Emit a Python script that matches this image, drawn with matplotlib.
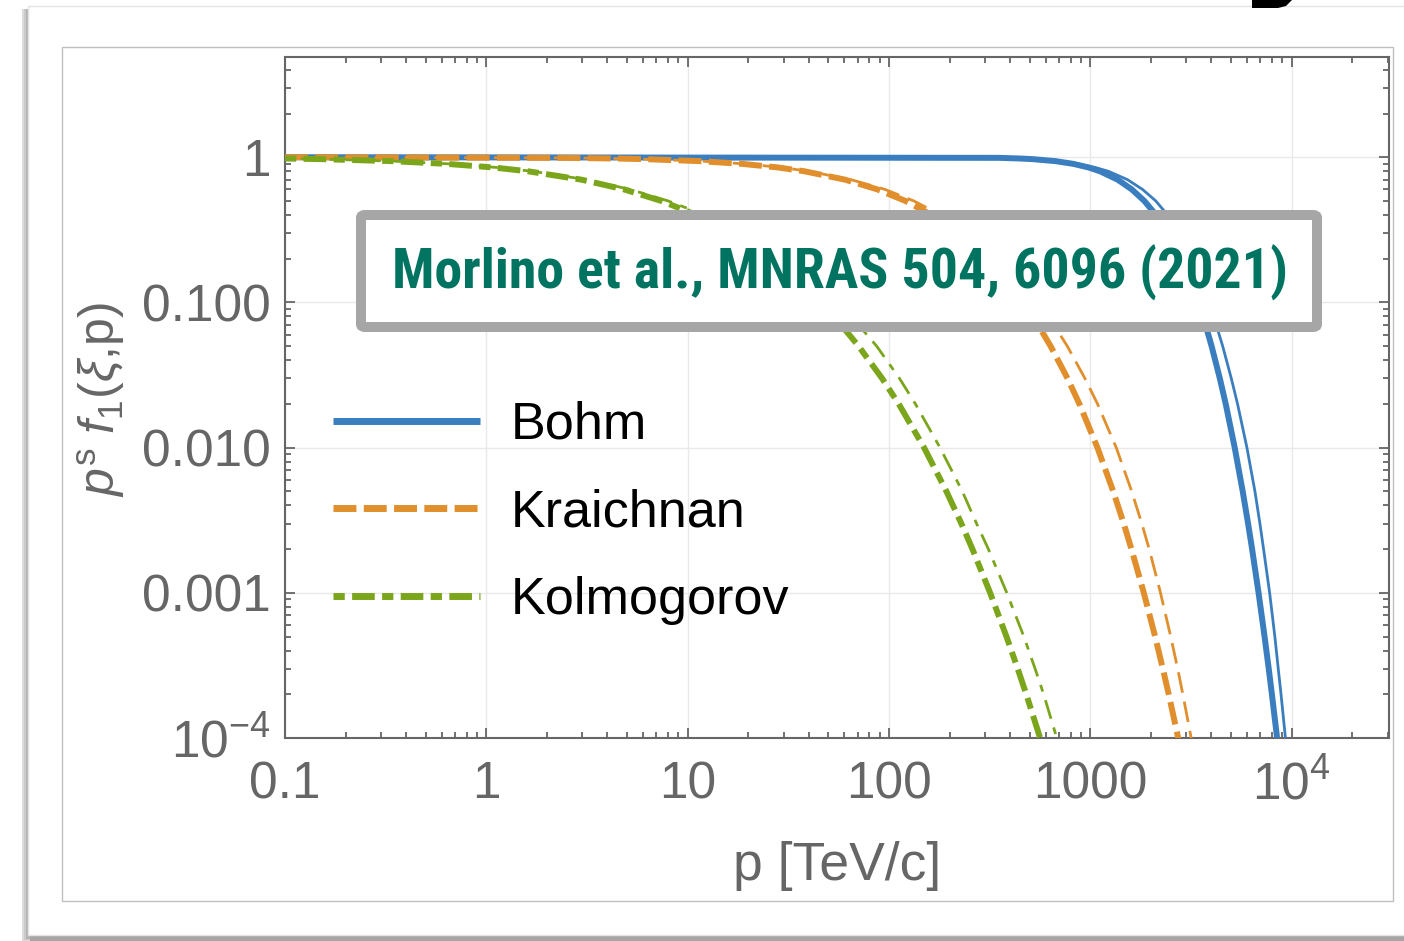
import matplotlib
matplotlib.use("Agg")
import matplotlib.pyplot as plt
from matplotlib.lines import Line2D
from matplotlib.patches import Rectangle, FancyBboxPatch, Polygon
from matplotlib.ticker import FixedLocator, FixedFormatter, LogLocator, NullFormatter

plt.rcParams['font.family'] = ['Liberation Sans', 'DejaVu Sans']
plt.rcParams['mathtext.fontset'] = 'custom'
plt.rcParams['mathtext.rm'] = 'Liberation Sans'
plt.rcParams['mathtext.it'] = 'Liberation Sans:italic'
plt.rcParams['mathtext.bf'] = 'Liberation Sans:bold'
plt.rcParams['lines.scale_dashes'] = False

# ---------------- data ----------------
series_names = ["Bohm", "Kraichnan", "Kolmogorov"]

# f levels at which the momentum of each curve was read
f_levels = [0.98, 0.97, 0.94, 0.9, 0.85, 0.8, 0.7, 0.6, 0.5, 0.4, 0.3, 0.2, 0.15, 0.1,
            0.07, 0.05, 0.03, 0.02, 0.01, 0.005, 0.003, 0.002, 0.001, 5e-4, 3e-4, 2e-4,
            1e-4, 5e-5]
f_start = [1.0, 0.99]          # plateau points for Bohm / Kraichnan

# Bohm (thick = main curve, thin = companion curve)
p_bohm_start = [0.1, 352]
p_bohm = [446.7, 517, 671, 824, 981, 1119, 1370, 1610, 1857, 2125, 2437, 2834, 3096,
          3447, 3741, 4009, 4404, 4711, 5222, 5722, 6085, 6372, 6860, 7347, 7707, 7991,
          8481, 8974]
p_bohm_thin = [449, 522, 691, 865, 1059, 1231, 1534, 1819, 2117, 2423, 2754, 3202, 3498,
               3895, 4227, 4550, 5021, 5394, 6005, 6580, 6967, 7264, 7786, 8265, 8593,
               8870, 9329, 9782]

# Kraichnan
p_kra_start = [0.1, 2.41]
p_kra = [4.32, 6.14, 11.46, 18.67, 28.1, 38.1, 60.7, 87.7, 120.8, 163.1, 220.2, 305.6,
         369.3, 463.5, 550.3, 635.6, 771.3, 883.7, 1086, 1301, 1467, 1603, 1846, 2101,
         2295, 2455, 2736, 3029]
p_kra_thin = [4.36, 6.20, 11.69, 19.23, 29.22, 40.0, 64.95, 95.6, 132.9, 181.0, 248.8,
              351.4, 428.4, 546.9, 660.4, 769.1, 941.0, 1087, 1347, 1607, 1804, 1964,
              2234, 2511, 2720, 2885, 3174, 3483]

# Kolmogorov
p_kol = [0.1, 0.1513, 0.3381, 0.6358, 1.0813, 1.614, 2.977, 4.839, 7.405, 11.07, 16.59,
         25.85, 33.47, 45.69, 57.88, 70.67, 92.46, 111.9, 149.5, 193.0, 229.0, 260.0,
         318.3, 383.6, 436.4, 481.3, 563.9, 655.0]
p_kol_thin = [0.1, 0.153, 0.345, 0.655, 1.125, 1.695, 3.156, 5.178, 7.997, 12.18, 18.58,
              29.73, 39.16, 54.37, 70.61, 86.92, 112.8, 135.4, 179.4, 231.6, 272.5, 312.0,
              385.1, 468.0, 532.4, 587.2, 682.3, 786.0]

x_ticks = [0.1, 1, 10, 100, 1000, 10000]
x_ticklabels = ["0.1", "1", "10", "100", "1000", r"$10^{4}$"]
y_ticks = [1e-4, 1e-3, 1e-2, 1e-1, 1]
y_ticklabels = [r"$10^{-4}$", "0.001", "0.010", "0.100", "1"]

citation = "Morlino et al., MNRAS 504, 6096 (2021)"

# ---------------- styles ----------------
C_BLUE = "#3a7ebf"
C_ORANGE = "#e08f2c"
C_GREEN = "#7ba61c"
C_TEAL = "#007361"
GRAY_TXT = "#666666"

W, H = 1404, 941
fig = plt.figure(figsize=(W / 100, H / 100), dpi=100)
fig.patch.set_facecolor("white")


def fx(x):
    return x / W


def fy(y):
    return 1 - y / H


# ---- page card decoration ----
for i, c in enumerate(["#dcdcdc", "#cacaca", "#b4b4b4"]):
    fig.patches.append(Rectangle((fx(22 + i * 2), fy(941 - i)), 1, (941 - 9 - i) / H,
                                 transform=fig.transFigure, facecolor=c, edgecolor="none",
                                 zorder=-5 + i))
fig.patches.append(Rectangle((fx(30), fy(941)), 1, 6 / H, transform=fig.transFigure,
                             facecolor="#a6a6a6", edgecolor="none", zorder=-3))
fig.patches.append(Rectangle((fx(28), fy(935)), 1, (935 - 6) / H, transform=fig.transFigure,
                             facecolor="white", edgecolor="#e4e4e4", lw=1.0, zorder=-2))
fig.patches.append(Polygon([(fx(1252), fy(0)), (fx(1292), fy(0)), (fx(1286), fy(6)),
                            (fx(1278), fy(8)), (fx(1252), fy(8))], closed=True,
                           transform=fig.transFigure, facecolor="black", edgecolor="none",
                           zorder=-1))
fig.patches.append(Rectangle((fx(62), fy(901)), (1393 - 62) / W, (901 - 47) / H,
                             transform=fig.transFigure, facecolor="white",
                             edgecolor="#c0c0c0", lw=1.0, zorder=-1))

# ---- axes ----
ax = fig.add_axes([fx(285), fy(738), (1389 - 285) / W, (738 - 57) / H])
ax.set_facecolor("none")
ax.set_xscale("log")
ax.set_yscale("log")
ax.set_xlim(0.1, 3.05e4)
ax.set_ylim(1e-4, 4.9)

lw_thick, lw_thin = 4.3, 2.0
dash_or_thick = (0, (16.5, 5.3))
dash_or_thin = (0, (15.0, 6.5))
dash_gr_thick = (0, (8.1, 5.3, 16.3, 5.3))
dash_gr_thin = (0, (5.0, 6.5, 14.0, 6.5))

ax.plot(p_bohm_start + p_bohm, f_start + f_levels, color=C_BLUE, lw=lw_thick, zorder=3)
ax.plot(p_bohm_start + p_bohm_thin, f_start + f_levels, color=C_BLUE, lw=lw_thin, zorder=3)
ax.plot(p_kra_start + p_kra, f_start + f_levels, color=C_ORANGE, lw=lw_thick,
        linestyle=dash_or_thick, zorder=4)
ax.plot(p_kra_start + p_kra_thin, f_start + f_levels, color=C_ORANGE, lw=lw_thin,
        linestyle=dash_or_thin, zorder=4)
ax.plot(p_kol, f_levels, color=C_GREEN, lw=lw_thick, linestyle=dash_gr_thick, zorder=5)
ax.plot(p_kol_thin, f_levels, color=C_GREEN, lw=lw_thin, linestyle=dash_gr_thin, zorder=5)

# ticks / grid
ax.xaxis.set_major_locator(FixedLocator(x_ticks))
ax.xaxis.set_major_formatter(FixedFormatter(x_ticklabels))
ax.yaxis.set_major_locator(FixedLocator(y_ticks))
ax.yaxis.set_major_formatter(FixedFormatter(y_ticklabels))
ax.xaxis.set_minor_locator(LogLocator(base=10, subs=range(2, 10), numticks=50))
ax.yaxis.set_minor_locator(LogLocator(base=10, subs=range(2, 10), numticks=50))
ax.xaxis.set_minor_formatter(NullFormatter())
ax.yaxis.set_minor_formatter(NullFormatter())
ax.tick_params(which="both", direction="in", top=True, right=True, color=GRAY_TXT,
               width=1.3)
ax.tick_params(which="major", length=7.5)
ax.tick_params(which="minor", length=4.3)
ax.tick_params(axis="x", which="major", pad=16, labelsize=37, labelcolor=GRAY_TXT)
ax.tick_params(axis="y", which="major", pad=10, labelsize=37, labelcolor=GRAY_TXT)
for s in ax.spines.values():
    s.set_color(GRAY_TXT)
    s.set_linewidth(1.5)
ax.grid(True, which="major", color="#e9e9e9", lw=1.0, zorder=0)
ax.set_axisbelow(True)

# axis labels
fig.text(fx(837), fy(866), "p [TeV/c]", fontsize=38.5, color=GRAY_TXT, ha="center",
         va="center")
fig.text(fx(101), fy(400), r"$p^{\mathrm{s}}\ f_1(\xi$,p)", fontsize=36,
         color=GRAY_TXT, rotation=90, ha="center", va="center")

# legend
handles = [
    Line2D([], [], color=C_BLUE, lw=5.0, solid_capstyle="butt"),
    Line2D([], [], color=C_ORANGE, lw=5.0, linestyle=dash_or_thick, dash_capstyle="butt"),
    Line2D([], [], color=C_GREEN, lw=5.0, linestyle=dash_gr_thick, dash_capstyle="butt"),
]
leg = ax.legend(handles, series_names, loc="center left",
                bbox_to_anchor=((333 - 285) / 1104, (738 - 513) / 681),
                frameon=False, fontsize=37.5, handlelength=2.82, handletextpad=0.6,
                labelspacing=0.74, borderpad=0, borderaxespad=0)
for t in leg.get_texts():
    t.set_color("black")

# citation box
box = FancyBboxPatch((fx(361), fy(327)), (1317 - 361) / W, (327 - 215) / H,
                     boxstyle="round,pad=0,rounding_size=0.003",
                     transform=fig.transFigure, facecolor="white", edgecolor="#a6a6a6",
                     lw=7.2, zorder=10)
fig.patches.append(box)
txt = fig.text(fx(840), fy(289), citation, fontsize=40, color=C_TEAL, ha="center",
               va="baseline",
               family=["Roboto Condensed", "Open Sans Condensed", "Liberation Sans Narrow",
                       "DejaVu Sans"],
               fontstretch="condensed", fontweight="bold", zorder=11)
r = fig.canvas.get_renderer()
bb = txt.get_window_extent(renderer=r)
txt.set_fontsize(40 * 895 / bb.width)

fig.savefig("out.png", dpi=100, facecolor="white")
